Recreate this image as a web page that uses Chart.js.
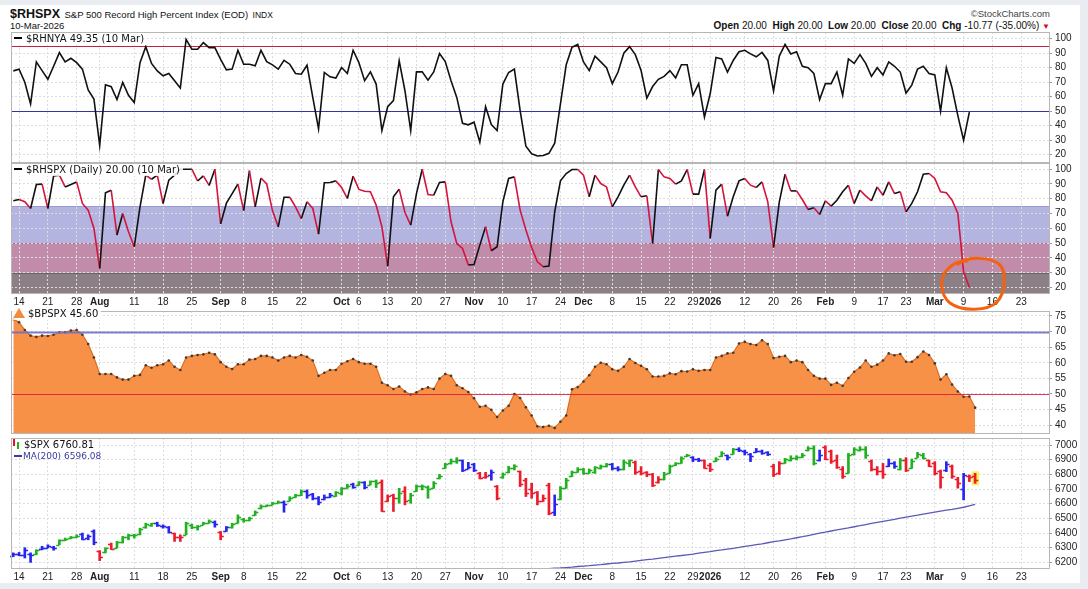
<!DOCTYPE html>
<html>
<head>
<meta charset="utf-8">
<title>$RHSPX S&amp;P 500 Record High Percent Index</title>
<script src="https://cdn.jsdelivr.net/npm/chart.js@4.4.1/dist/chart.umd.min.js"></script>
<style>
  body { margin: 0; width: 1088px; height: 589px; background: #e9edf1; overflow: hidden;
         font-family: "Liberation Sans", Arial, sans-serif; color: #111; }
  .sheet { position: absolute; left: 0; top: 5px; width: 1080px; height: 578px; background: #fff; }
  canvas { position: absolute; left: 0; }
  .txt { position: absolute; white-space: nowrap; line-height: 12px; color: #111; }
  .legend { position: absolute; left: 12px; font-family: "DejaVu Sans", Verdana, sans-serif; font-size: 10px;
            line-height: 12px; background: rgba(255,255,255,0.85); padding: 0 3px 0 1px; white-space: nowrap; }
  .dash { display: inline-block; width: 8px; height: 2px; background: #000; vertical-align: middle; margin: 0 4px 2px 1px; }
  .mtn { display: inline-block; width: 0; height: 0; border-left: 6px solid transparent; border-right: 6px solid transparent;
         border-bottom: 10px solid #f58a3c; vertical-align: -1px; margin-right: 3px; }
  .bars { display: inline-block; width: 8px; height: 10px; position: relative; vertical-align: -1px; margin-right: 3px; }
  .bars i { position: absolute; width: 2px; }
  .note { position: absolute; left: 0; top: 0; pointer-events: none; }
</style>
</head>
<body>
<div class="sheet"></div>

<div class="txt" style="left:10px;top:7px;"><b style="font-size:12.5px">$RHSPX</b> <span style="font-size:9.5px">S&amp;P 500 Record High Percent Index (EOD)</span> <span style="font-size:8.5px;color:#111">INDX</span></div>
<div class="txt" style="left:10px;top:20px;font-size:9.5px;">10-Mar-2026</div>
<div class="txt" style="right:38px;top:8px;font-size:9.5px;color:#444;">&copy;StockCharts.com</div>
<div class="txt" style="right:38px;top:20px;font-size:10px;"><b>Open</b> 20.00 &nbsp;<b>High</b> 20.00 &nbsp;<b>Low</b> 20.00 &nbsp;<b>Close</b> 20.00 &nbsp;<b>Chg</b> -10.77 (-35.00%) <span style="color:#c8102e;font-size:8px">&#9660;</span></div>

<canvas id="rhnya" width="1080" height="131" style="top:32px"></canvas>
<canvas id="rhspx" width="1080" height="145" style="top:163px"></canvas>
<canvas id="bpspx" width="1080" height="131" style="top:307px"></canvas>
<canvas id="spx" width="1080" height="145" style="top:438px"></canvas>

<div class="legend" style="top:33px"><span class="dash"></span>$RHNYA 49.35 (10 Mar)</div>
<div class="legend" style="top:164px"><span class="dash"></span>$RHSPX (Daily) 20.00 (10 Mar)</div>
<div class="legend" style="top:308px"><span class="mtn"></span>$BPSPX 45.60</div>
<div class="legend" style="top:439px"><span class="bars"><i style="left:0;top:0;height:7px;background:#e8102a"></i><i style="left:4px;top:3px;height:7px;background:#22b022"></i></span>$SPX 6760.81</div>
<div class="legend" style="top:450px;font-size:9px;color:#3a3aa0;background:none"><span class="dash" style="background:#3a3aa0;margin-right:1px"></span>MA(200) 6596.08</div>

<!-- hand drawn circle round the latest $RHSPX reading -->
<svg class="note" width="1088" height="589">
  <path d="M 958 264 C 968 256, 990 257, 999 264 C 1007 271, 1006 292, 997 302 C 988 311, 962 312, 950 303 C 940 295, 939 278, 947 270 C 951 265, 958 261, 967 261"
        fill="none" stroke="#f5620f" stroke-width="3" stroke-linecap="round"/>
</svg>

<script>
// Trading days run from 11 Jul 2025 (index 0) to 10/11 Mar 2026; empty sessions follow on the right
const tickIdx = [1, 6, 11, 15, 21, 26, 31, 36, 40, 45, 50, 57, 60, 65, 70, 75, 80, 85, 90, 95, 99,
  104, 109, 114, 118, 121, 127, 132, 136, 141, 146, 151, 155, 160, 165, 170, 175];
const tickText = ['14', '21', '28', 'Aug', '11', '18', '25', 'Sep', '8', '15', '22', 'Oct', '6', '13', '20', '27', 'Nov',
  '10', '17', '24', 'Dec', '8', '15', '22', '29', '2026', '12', '20', '26', 'Feb', '9', '17', '23', 'Mar', '9', '16', '23'];
const boldTicks = ['Aug', 'Sep', 'Oct', 'Nov', 'Dec', '2026', 'Feb', 'Mar'];

const pctTicks = [20, 30, 40, 50, 60, 70, 80, 90, 100];
const bpTicks = [40, 45, 50, 55, 60, 65, 70, 75];
const spxTicks = [6200, 6300, 6400, 6500, 6600, 6700, 6800, 6900, 7000];

// $RHNYA (10 Mar 49.35)
const rhnya = [
  77.8, 79, 70, 55, 84, 78, 72, 81, 90.4, 84,
  86.5, 83.5, 79, 64.6, 58.4, 26.4, 68.2, 66.9, 58, 69.8,
  61, 56, 83.5, 94.5, 82.9, 77.8, 74.4, 76, 71, 66,
  99.5, 92.7, 92.7, 97.3, 93.8, 93.8, 85.8, 78.5, 79, 92,
  82.4, 82.4, 81.3, 92, 84.2, 81.9, 79, 85.1, 82.4, 76,
  75.5, 81.7, 59.5, 37.8, 76.7, 73.7, 72.8, 80.1, 76, 92,
  83.5, 71, 77.1, 68.7, 36.7, 53.1, 57.3, 84.7, 64.1, 36.7,
  77.1, 77.1, 71.4, 77.1, 89.7, 84.2, 71, 59.5, 41.7, 40.6,
  42.4, 28.7, 53.1, 40.8, 36.7, 68.7, 76.7, 79, 50.4, 25.9,
  20.7, 19.1, 19.5, 21, 28, 55, 82, 94, 96, 84,
  78, 88, 84, 80, 69, 77, 90, 94.5, 89, 78,
  59, 67, 72, 74, 78, 73, 82, 82, 61, 69,
  46, 62, 87, 86, 77, 85, 91, 92, 89.5, 87.5,
  90.5, 85, 64, 88, 96, 89.5, 91, 81, 80, 76,
  58, 69, 69, 77, 61, 86, 83, 89, 83, 74,
  80, 75, 84, 81, 77, 62.5, 68, 79, 81, 76,
  75, 50, 80, 66, 47, 30, 49.35
];
const rhnyaLevels = [95, 50];

// $RHSPX daily (10 Mar 20.00)
const rhspx = [
  78.6, 79.5, 78, 73.4, 89.6, 89.9, 73.4, 95.5, 96, 88,
  89.6, 91.4, 76.8, 72.3, 59.9, 32.8, 84, 85.8, 55.4, 70,
  57.6, 47.5, 74.5, 96, 93.2, 96, 76.8, 92.6, 96, 100,
  100, 100, 92, 95.5, 89, 100, 63, 77, 83.5, 90,
  72, 99, 74.5, 94, 90, 72, 61, 81, 81, 74.5,
  66.6, 78, 73.4, 56, 90.8, 91, 92.1, 87.6, 80.2, 95.3,
  86.3, 85.1, 84.7, 75.7, 61, 34.4, 81.3, 86.5, 70.7, 62.1,
  83.5, 100, 82.9, 82.4, 91, 91.4, 64.4, 49.7, 46.4, 35.1,
  35.5, 48.6, 61, 44.8, 47.5, 77.9, 93.7, 94.8, 72.3, 58.8,
  47, 37.3, 34, 34.4, 71.1, 92.1, 97.1, 99.8, 99.8, 96,
  81.3, 96, 90.3, 88, 74.5, 81.3, 89.2, 96, 88, 81.3,
  82, 49.7, 99.8, 94.8, 93.7, 89.9, 92.1, 99.8, 83.1, 83.1,
  99.8, 53.1, 85.8, 89.9, 68.2, 81.3, 92.1, 93.7, 89.2, 87.6,
  91.4, 77.9, 47, 77.9, 96.6, 85.3, 85.3, 79.5, 72.7, 73.9,
  69.3, 78.6, 75, 79, 84.7, 89.2, 76.8, 85.8, 82, 78.6,
  88, 82.4, 91.4, 83.5, 84.7, 71.1, 76.8, 84.7, 96.6, 97.1,
  93.7, 84.7, 84, 79, 70, 30.6, 20
];
const rhspxZones = [75, 50, 30];

// $BPSPX bullish percent (45.60)
const bpspx = [
  74, 73, 70.5, 68.7, 68.3, 68.7, 68.6, 69, 69.8, 69.8,
  70.3, 70.5, 69, 66, 61.7, 56.4, 56.4, 56.4, 55.3, 54.6,
  54.6, 55.8, 56.1, 59.2, 58.4, 59.2, 59.5, 60.7, 58.7, 57.7,
  61.7, 62.2, 62.5, 62.7, 63.2, 62.7, 60.2, 58.7, 58, 59.5,
  59.5, 61, 61.2, 62.2, 62.2, 61.7, 60.7, 61.7, 62.2, 61.7,
  62.5, 61.9, 60.7, 55.8, 56.8, 57.7, 57.7, 59.7, 60.5, 61.2,
  60.2, 59.7, 59.7, 58.7, 53.6, 52.8, 51.6, 52.4, 50.8, 49.8,
  50.5, 51.6, 52.1, 51.6, 54.9, 56.4, 55.8, 52.8, 51.8, 50.6,
  48.6, 45.9, 46.2, 44.9, 42.6, 44.7, 46.2, 50, 48.7, 45.7,
  43.1, 39.6, 39.4, 39.8, 39.1, 41.1, 43.1, 51.5, 52.2, 54,
  56, 58.7, 60, 59.5, 57.9, 57.4, 58.7, 61.2, 59.9, 59,
  57.9, 55.6, 55.6, 55.8, 56.6, 56.3, 57.3, 57.2, 57.9, 57.4,
  57.7, 57.7, 61.7, 62.2, 63, 63.2, 66.2, 66.7, 66, 65.7,
  67.2, 66, 61.5, 61.9, 62.2, 60.2, 60.7, 60.2, 57.7, 55.8,
  54.9, 54.9, 52.9, 53.6, 52.6, 55.1, 57.1, 58.5, 60.7, 58.7,
  59.4, 60.7, 63, 62.4, 62.8, 60.3, 60.3, 61.8, 63.6, 62.5,
  59.8, 54.6, 56.3, 53, 50.8, 49.1, 49.2, 45.6
];
const bpspxLevels = [70, 50];

// $SPX daily OHLC
const spxOpen = [
  6245, 6258, 6250, 6260, 6255, 6290, 6300, 6308, 6322, 6352,
  6363, 6372, 6395, 6365, 6415, 6275, 6268, 6325, 6300, 6340,
  6370, 6385, 6395, 6440, 6455, 6466, 6450, 6440, 6398, 6375,
  6390, 6455, 6440, 6458, 6470, 6478, 6405, 6415, 6440, 6470,
  6495, 6490, 6522, 6570, 6585, 6594, 6605, 6615, 6620, 6645,
  6660, 6690, 6665, 6640, 6630, 6648, 6655, 6675, 6710, 6735,
  6728, 6745, 6730, 6755, 6750, 6620, 6660, 6640, 6690, 6625,
  6690, 6720, 6715, 6710, 6775, 6845, 6875, 6890, 6895, 6840,
  6870, 6810, 6780, 6795, 6720, 6780, 6815, 6845, 6820, 6760,
  6700, 6680, 6620, 6730, 6545, 6630, 6710, 6790, 6818, 6835,
  6810, 6815, 6845, 6855, 6870, 6845, 6840, 6880, 6885, 6820,
  6815, 6800, 6745, 6770, 6810, 6862, 6880, 6925, 6920, 6905,
  6895, 6865, 6890, 6925, 6930, 6940, 6975, 6960, 6940, 6955,
  6960, 6950, 6860, 6810, 6880, 6900, 6910, 6920, 6965, 6980,
  6895, 6985, 6960, 6900, 6840, 6810, 6940, 6965, 6975, 6890,
  6840, 6820, 6860, 6880, 6840, 6900, 6845, 6915, 6935, 6895,
  6880, 6820, 6830, 6855, 6770, 6700, 6790, 6790
];
const spxHigh = [
  6265, 6268, 6300, 6265, 6286, 6310, 6320, 6310, 6354, 6366,
  6377, 6388, 6400, 6388, 6422, 6280, 6300, 6332, 6343, 6377,
  6392, 6392, 6433, 6467, 6467, 6474, 6456, 6445, 6400, 6388,
  6474, 6461, 6452, 6474, 6490, 6483, 6411, 6445, 6467, 6524,
  6501, 6508, 6551, 6592, 6592, 6610, 6619, 6619, 6648, 6664,
  6694, 6694, 6671, 6649, 6660, 6671, 6683, 6710, 6733, 6740,
  6751, 6751, 6755, 6762, 6762, 6660, 6665, 6705, 6716, 6671,
  6728, 6728, 6721, 6751, 6800, 6875, 6905, 6914, 6898, 6882,
  6875, 6814, 6814, 6830, 6724, 6810, 6855, 6866, 6823, 6773,
  6740, 6683, 6660, 6740, 6660, 6717, 6773, 6823, 6846, 6841,
  6837, 6853, 6864, 6875, 6875, 6853, 6898, 6898, 6891, 6853,
  6819, 6807, 6785, 6814, 6864, 6880, 6920, 6937, 6921, 6910,
  6898, 6875, 6914, 6955, 6932, 6977, 6982, 6966, 6943, 6977,
  6966, 6955, 6869, 6887, 6909, 6927, 6927, 6943, 6989, 6995,
  6966, 6995, 6966, 6932, 6853, 6943, 6982, 6989, 6989, 6898,
  6853, 6875, 6905, 6887, 6909, 6914, 6905, 6950, 6943, 6898,
  6887, 6830, 6887, 6864, 6780, 6807, 6796, 6807
];
const spxLow = [
  6240, 6245, 6230, 6200, 6252, 6286, 6298, 6283, 6320, 6348,
  6361, 6370, 6354, 6354, 6320, 6212, 6265, 6288, 6298, 6332,
  6354, 6366, 6388, 6433, 6445, 6445, 6433, 6400, 6343, 6343,
  6388, 6429, 6420, 6456, 6467, 6440, 6354, 6411, 6433, 6467,
  6474, 6483, 6520, 6565, 6581, 6592, 6603, 6542, 6619, 6642,
  6655, 6637, 6626, 6592, 6626, 6642, 6649, 6660, 6705, 6705,
  6724, 6701, 6728, 6710, 6547, 6615, 6547, 6603, 6592, 6603,
  6683, 6694, 6637, 6705, 6769, 6840, 6870, 6875, 6819, 6837,
  6819, 6769, 6773, 6760, 6626, 6773, 6810, 6830, 6717, 6649,
  6637, 6592, 6615, 6524, 6519, 6626, 6705, 6785, 6814, 6800,
  6807, 6807, 6837, 6850, 6830, 6823, 6830, 6853, 6800, 6796,
  6785, 6717, 6740, 6762, 6807, 6860, 6875, 6921, 6887, 6887,
  6841, 6819, 6887, 6921, 6898, 6937, 6955, 6932, 6887, 6950,
  6937, 6928, 6785, 6800, 6875, 6891, 6898, 6914, 6960, 6864,
  6891, 6900, 6875, 6841, 6773, 6807, 6932, 6959, 6909, 6823,
  6796, 6773, 6853, 6841, 6830, 6819, 6841, 6914, 6905, 6853,
  6796, 6706, 6819, 6773, 6706, 6626, 6751, 6739
];
const spxClose = [
  6258, 6250, 6285, 6250, 6282, 6300, 6310, 6295, 6350, 6360,
  6370, 6383, 6362, 6380, 6340, 6238, 6295, 6292, 6338, 6372,
  6388, 6390, 6428, 6462, 6466, 6455, 6445, 6410, 6375, 6370,
  6466, 6440, 6445, 6470, 6480, 6460, 6380, 6440, 6460, 6510,
  6490, 6500, 6545, 6585, 6588, 6605, 6615, 6600, 6640, 6660,
  6690, 6660, 6640, 6610, 6645, 6660, 6680, 6705, 6720, 6715,
  6745, 6715, 6752, 6740, 6552, 6650, 6640, 6670, 6620, 6660,
  6720, 6720, 6700, 6740, 6792, 6872, 6890, 6900, 6830, 6850,
  6830, 6775, 6790, 6815, 6640, 6805, 6845, 6855, 6735, 6670,
  6672, 6620, 6640, 6540, 6600, 6705, 6765, 6815, 6840, 6812,
  6830, 6850, 6855, 6870, 6845, 6840, 6885, 6895, 6815, 6810,
  6800, 6725, 6770, 6805, 6855, 6875, 6915, 6930, 6905, 6895,
  6845, 6840, 6905, 6945, 6920, 6970, 6965, 6950, 6925, 6960,
  6945, 6940, 6800, 6875, 6905, 6915, 6920, 6935, 6980, 6880,
  6930, 6905, 6890, 6850, 6790, 6935, 6970, 6975, 6930, 6835,
  6820, 6800, 6880, 6855, 6900, 6830, 6890, 6940, 6915, 6860,
  6810, 6780, 6870, 6790, 6740, 6795, 6785, 6760.81
];
// Elder impulse state of each bar: 1 green, -1 red, 0 blue
const impulse = [
  0, 0, 0, 0, 1, 0, 0, 0, 1, 1,
  1, 1, 0, 0, 0, -1, 1, -1, 1, 1,
  1, 1, 1, 1, 1, 0, 0, 0, -1, -1,
  1, 1, 1, 1, 1, 0, -1, 0, 1, 1,
  1, 1, 1, 1, 1, 1, 1, 0, 1, 1,
  1, 0, 0, 0, 0, 0, 1, 1, 1, 0,
  1, 0, 1, 1, -1, -1, -1, 1, -1, 1,
  1, 1, 1, 1, 1, 1, 1, 1, 0, 0,
  0, -1, -1, 0, -1, 1, 1, 1, -1, -1,
  -1, -1, -1, -1, 0, 1, 1, 1, 1, 1,
  1, 1, 1, 1, 0, 0, 1, 1, -1, -1,
  -1, -1, -1, 1, 1, 1, 1, 1, 0, 0,
  -1, -1, 1, 1, 0, 1, 0, 0, 0, 0,
  0, 0, -1, -1, 1, 1, 1, 1, 1, 1,
  0, -1, -1, -1, -1, 1, 1, 1, 1, -1,
  -1, -1, 0, 0, 1, -1, 1, 1, 1, -1,
  -1, -1, 0, -1, -1, 0, -1, -1
];
// 200-day moving average, only the part that rises into view
const MA_START = 90;
const ma200 = [
  6146, 6150, 6154, 6157, 6160, 6162, 6165, 6168, 6172, 6175,
  6178, 6182, 6185, 6189, 6193, 6196, 6200, 6204, 6209, 6214,
  6219, 6223, 6228, 6233, 6238, 6243, 6247, 6252, 6257, 6263,
  6269, 6274, 6280, 6285, 6291, 6296, 6302, 6309, 6315, 6321,
  6327, 6334, 6341, 6347, 6354, 6360, 6368, 6375, 6383, 6391,
  6399, 6406, 6414, 6421, 6428, 6435, 6443, 6450, 6458, 6466,
  6473, 6480, 6487, 6494, 6502, 6509, 6516, 6522, 6529, 6536,
  6543, 6550, 6556, 6562, 6569, 6576, 6586, 6596.08
];

const X_MIN = -0.4;
const X_MAX = 180;
const GRID = '#dcdcdc';

Chart.defaults.font.family = '"Liberation Sans", Arial, sans-serif';
Chart.defaults.font.size = 10;
Chart.defaults.color = '#222';
Chart.defaults.animation = false;
Chart.defaults.plugins.legend.display = false;
Chart.defaults.plugins.tooltip.enabled = false;

/**
 * @param {Array<number>} values
 * @param {number} start - index of the first value
 */
function points(values, start = 0) {
    return values.map((v, i) => ({ x: start + i, y: v }));
}

function impulseColor(state) {
    if (state > 0) return '#22b022';
    if (state < 0) return '#ec1c2c';
    return '#2626ee';
}

function isBoldTick(c) {
    if (!c || !c.tick) return false;
    return boldTicks.includes(tickText[tickIdx.indexOf(c.tick.value)]);
}

/**
 * Shared date axis, labels only under the second and the last panel
 */
function xAxis(showLabels) {
    return {
        type: 'linear',
        min: X_MIN,
        max: X_MAX,
        offset: false,
        afterBuildTicks: s => { s.ticks = tickIdx.map(v => ({ value: v })); },
        afterFit: s => { s.height = showLabels ? 14 : 0; s.paddingLeft = 0; s.paddingRight = 0; },
        grid: { color: GRID, drawTicks: false, offset: false },
        border: { display: false, dash: [2, 2] },
        ticks: {
            display: showLabels,
            autoSkip: false,
            maxRotation: 0,
            padding: 2,
            color: '#222',
            font: c => ({ size: 10, weight: isBoldTick(c) ? 'bold' : 'normal' }),
            callback: v => tickText[tickIdx.indexOf(v)] ?? ''
        }
    };
}

function yAxis(min, max, ticks) {
    return {
        position: 'right',
        min: min,
        max: max,
        afterBuildTicks: s => { s.ticks = ticks.map(v => ({ value: v })); },
        afterFit: s => { s.width = 30; s.paddingTop = 0; s.paddingBottom = 0; },
        grid: { color: GRID, tickLength: 2, tickColor: '#999' },
        border: { display: false, dash: [2, 2] },
        ticks: { autoSkip: false, padding: 3, color: '#222', font: { size: 10 }, callback: v => String(v) }
    };
}

// grey frame round every panel
const frame = {
    id: 'frame',
    afterDraw(chart) {
        const { ctx, chartArea: a } = chart;
        ctx.save();
        ctx.strokeStyle = '#b6b6b6';
        ctx.lineWidth = 1;
        ctx.strokeRect(a.left + 0.5, a.top + 0.5, a.width - 1, a.height - 1);
        ctx.restore();
    }
};

// horizontal reference lines
function drawLevels(chart, opts) {
    const { ctx, chartArea: a, scales: { y } } = chart;
    ctx.save();
    opts.lines.forEach(l => {
        const py = Math.round(y.getPixelForValue(l.value)) + 0.5;
        ctx.strokeStyle = l.color;
        ctx.lineWidth = l.width;
        ctx.beginPath();
        ctx.moveTo(a.left, py);
        ctx.lineTo(a.right, py);
        ctx.stroke();
    });
    ctx.restore();
}
const levels = {
    id: 'levels',
    beforeDatasetsDraw(chart, args, opts) { if (opts && opts.lines && !opts.front) drawLevels(chart, opts); },
    afterDatasetsDraw(chart, args, opts) { if (opts && opts.lines && opts.front) drawLevels(chart, opts); }
};

// coloured zones of the $RHSPX panel, painted under the grid
const zones = {
    id: 'zones',
    beforeDraw(chart, args, opts) {
        const { ctx, chartArea: a, scales: { y } } = chart;
        ctx.save();
        rhspxZones.forEach((level, i) => {
            const top = y.getPixelForValue(level);
            const bottom = i + 1 < rhspxZones.length ? y.getPixelForValue(rhspxZones[i + 1]) : a.bottom;
            ctx.fillStyle = opts.fills[i];
            ctx.fillRect(a.left, top, a.width, bottom - top);
            ctx.strokeStyle = opts.edges[i];
            ctx.lineWidth = 1;
            ctx.beginPath();
            ctx.moveTo(a.left, Math.round(top) + 0.5);
            ctx.lineTo(a.right, Math.round(top) + 0.5);
            ctx.stroke();
        });
        ctx.restore();
    }
};

// open / close ticks of the price bars and the highlight on the latest bar
const ohlcTicks = {
    id: 'ohlcTicks',
    beforeDatasetsDraw(chart) {
        const { ctx, scales: { x, y } } = chart;
        const last = spxClose.length - 1;
        const px = x.getPixelForValue(last);
        const top = y.getPixelForValue(spxHigh[last]) - 2;
        const bottom = y.getPixelForValue(spxLow[last]) + 2;
        ctx.save();
        ctx.fillStyle = '#f4f25e';
        ctx.fillRect(px - 3.5, top, 7.5, bottom - top);
        ctx.restore();
    },
    afterDatasetsDraw(chart) {
        const { ctx, scales: { x, y } } = chart;
        ctx.save();
        ctx.lineWidth = 1.6;
        spxClose.forEach((c, i) => {
            const px = x.getPixelForValue(i);
            const po = Math.round(y.getPixelForValue(spxOpen[i])) + 0.5;
            const pc = Math.round(y.getPixelForValue(c)) + 0.5;
            ctx.strokeStyle = impulseColor(impulse[i]);
            ctx.beginPath();
            ctx.moveTo(px - 3.2, po);
            ctx.lineTo(px, po);
            ctx.moveTo(px, pc);
            ctx.lineTo(px + 3.2, pc);
            ctx.stroke();
        });
        ctx.restore();
    }
};

function baseOptions(yScale, showLabels) {
    return {
        responsive: false,
        maintainAspectRatio: false,
        layout: { padding: { left: 11, right: 0, top: 0, bottom: 0 } },
        scales: { x: xAxis(showLabels), y: yScale },
        elements: { point: { radius: 0 } }
    };
}

// panel 1: $RHNYA
const opt1 = baseOptions(yAxis(14.3, 104.6, pctTicks), false);
opt1.plugins = { levels: { front: false, lines: [
    { value: rhnyaLevels[0], color: '#c8203c', width: 1.2 },
    { value: rhnyaLevels[1], color: '#3434a4', width: 1.2 }
] } };
new Chart(document.getElementById('rhnya'), {
    type: 'line',
    data: { datasets: [{ data: points(rhnya), borderColor: '#111', borderWidth: 1.6, tension: 0 }] },
    options: opt1,
    plugins: [levels, frame]
});

// panel 2: $RHSPX with zones, falling legs in red
const opt2 = baseOptions(yAxis(15.5, 104.2, pctTicks), true);
opt2.plugins = { zones: {
    fills: ['#b4b4e1', '#c08caa', '#8c8086'],
    edges: ['#9a9ad4', '#cc5a86', '#6a6266']
} };
new Chart(document.getElementById('rhspx'), {
    type: 'line',
    data: { datasets: [{
        data: points(rhspx),
        borderWidth: 1.6,
        borderColor: '#111',
        segment: { borderColor: s => s.p1.parsed.y < s.p0.parsed.y ? '#d4143c' : '#111' }
    }] },
    options: opt2,
    plugins: [zones, frame]
});

// panel 3: $BPSPX mountain
const opt3 = baseOptions(yAxis(37.15, 76.6, bpTicks), false);
opt3.plugins = { levels: { front: true, lines: [
    { value: bpspxLevels[0], color: 'rgba(110,110,200,0.9)', width: 2 },
    { value: bpspxLevels[1], color: 'rgba(226,20,60,0.85)', width: 1.2 }
] } };
new Chart(document.getElementById('bpspx'), {
    type: 'line',
    data: { datasets: [{
        data: points(bpspx),
        borderColor: '#e06c1c',
        borderWidth: 1.2,
        backgroundColor: '#f89148',
        fill: 'start',
        pointRadius: 1.3,
        pointBorderWidth: 0,
        pointBackgroundColor: '#3a3a3a'
    }] },
    options: opt3,
    plugins: [levels, frame]
});

// panel 4: $SPX bars with the 200 day average
const opt4 = baseOptions(yAxis(6155, 7048, spxTicks), true);
new Chart(document.getElementById('spx'), {
    type: 'bar',
    data: { datasets: [
        {
            type: 'bar',
            data: spxHigh.map((h, i) => ({ x: i, y: [spxLow[i], h] })),
            backgroundColor: c => impulseColor(impulse[c.dataIndex]),
            barThickness: 2,
            grouped: false,
            borderWidth: 0
        },
        {
            type: 'line',
            data: points(ma200, MA_START),
            borderColor: '#5a5ab6',
            borderWidth: 1.3,
            pointRadius: 0
        }
    ] },
    options: opt4,
    plugins: [ohlcTicks, frame]
});
</script>
</body>
</html>
